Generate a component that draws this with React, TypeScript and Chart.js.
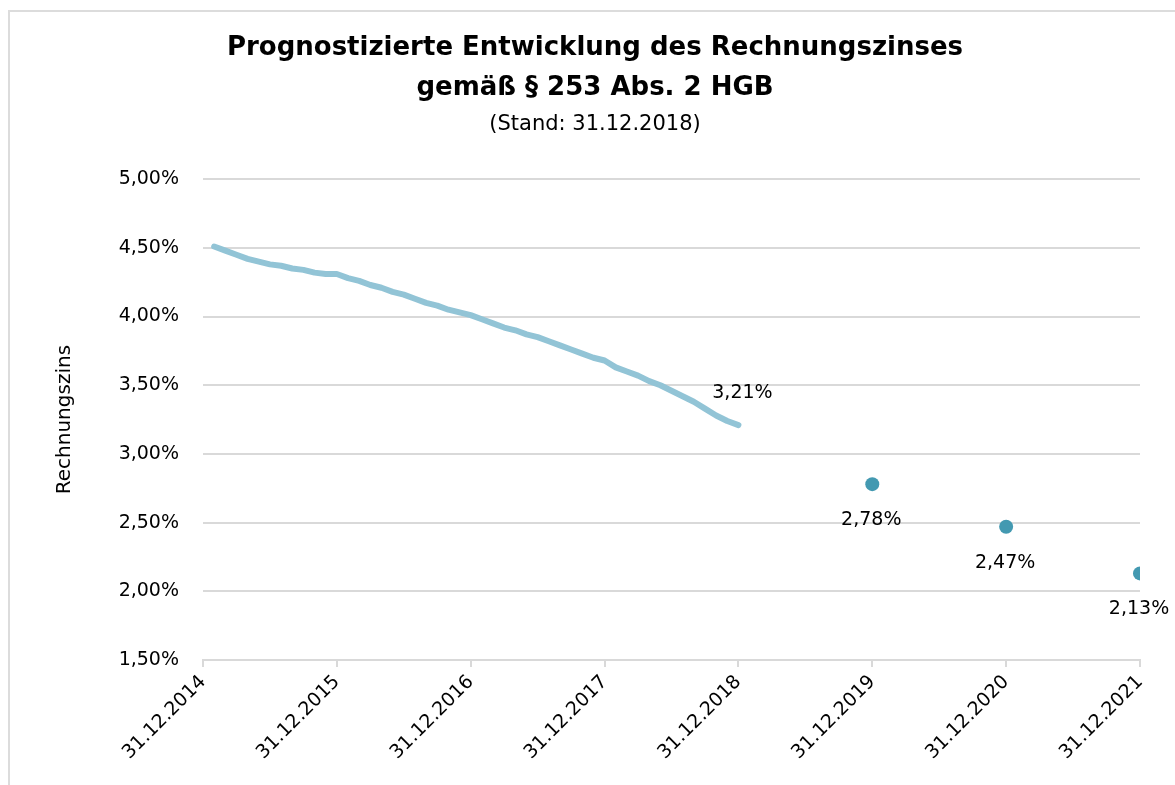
import React, { useEffect, useRef } from "react";
import { Chart, registerables } from "chart.js";

Chart.register(...registerables);

const titleLines = ["Prognostizierte Entwicklung des Rechnungszinses", "gemäß § 253 Abs. 2 HGB"];
const subtitleText = "(Stand: 31.12.2018)";
const yAxisTitle = "Rechnungszins";

const xTickLabels = [
  "31.12.2014",
  "31.12.2015",
  "31.12.2016",
  "31.12.2017",
  "31.12.2018",
  "31.12.2019",
  "31.12.2020",
  "31.12.2021",
];

// monthly values Jan 2015 .. Dec 2018 (in %)
const historicValues = [
  4.51, 4.48, 4.45, 4.42, 4.4, 4.38, 4.37, 4.35, 4.34, 4.32, 4.31, 4.31,
  4.28, 4.26, 4.23, 4.21, 4.18, 4.16, 4.13, 4.1, 4.08, 4.05, 4.03, 4.01,
  3.98, 3.95, 3.92, 3.9, 3.87, 3.85, 3.82, 3.79, 3.76, 3.73, 3.7, 3.68,
  3.63, 3.6, 3.57, 3.53, 3.5, 3.46, 3.42, 3.38, 3.33, 3.28, 3.24, 3.21,
];

// forecast points at year ends 2019, 2020, 2021 (months after 31.12.2014)
const forecastMonths = [60, 72, 84];
const forecastValues = [2.78, 2.47, 2.13];

const fmt = (v: number) => v.toFixed(2).replace(".", ",") + "%";

const FONT = "'DejaVu Sans', sans-serif";

const labelPlugin = {
  id: "valueLabels",
  afterDatasetsDraw(chart: any) {
    const ctx = chart.ctx;
    ctx.save();
    ctx.font = `19px ${FONT}`;
    ctx.fillStyle = "#000";
    ctx.textAlign = "center";
    ctx.textBaseline = "middle";
    const m0 = chart.getDatasetMeta(0);
    const last = m0.data[m0.data.length - 1];
    ctx.fillText(fmt(historicValues[historicValues.length - 1]), last.x + 4, last.y - 32);
    const m1 = chart.getDatasetMeta(1);
    m1.data.forEach((p: any, i: number) => {
      ctx.fillText(fmt(forecastValues[i]), p.x - 1, p.y + 36);
    });
    ctx.restore();
  },
};

export default function App() {
  const ref = useRef<HTMLCanvasElement>(null);

  useEffect(() => {
    if (!ref.current) return;
    Chart.defaults.font.family = FONT;
    Chart.defaults.color = "#000";
    const chart = new Chart(ref.current, {
      type: "line",
      data: {
        datasets: [
          {
            data: historicValues.map((v, i) => ({ x: i + 1, y: v })),
            borderColor: "#92c4d6",
            borderWidth: 6,
            borderCapStyle: "round",
            borderJoinStyle: "round",
            pointRadius: 0,
            tension: 0,
          },
          {
            data: forecastValues.map((v, i) => ({ x: forecastMonths[i], y: v })),
            showLine: false,
            pointRadius: 7,
            pointBackgroundColor: "#4399b1",
            pointBorderColor: "#4399b1",
            pointBorderWidth: 0,
          },
        ],
      },
      options: {
        responsive: false,
        animation: false,
        layout: { padding: { left: 50, right: 35, top: 0, bottom: 17 } },
        plugins: {
          legend: { display: false },
          tooltip: { enabled: false },
          title: {
            display: true,
            text: titleLines,
            color: "#000",
            font: { size: 26, weight: "bold", family: FONT, lineHeight: 40 / 26 },
            padding: { top: 28, bottom: 4 },
          },
          subtitle: {
            display: true,
            text: subtitleText,
            color: "#000",
            font: { size: 21, family: FONT, lineHeight: 1.2 },
            padding: { top: 0, bottom: 42 },
          },
        },
        scales: {
          x: {
            type: "linear",
            min: 0,
            max: 84,
            offset: false,
            grid: {
              display: true,
              drawOnChartArea: false,
              drawTicks: true,
              tickLength: 7,
              color: "#d9d9d9",
              lineWidth: 2,
            },
            border: { display: true, color: "#d9d9d9", width: 2 },
            ticks: {
              stepSize: 12,
              autoSkip: false,
              minRotation: 45,
              maxRotation: 45,
              padding: 4,
              font: { size: 19, family: FONT },
              color: "#000",
              callback: (v: any) => xTickLabels[Math.round(Number(v) / 12)] ?? "",
            },
          },
          y: {
            min: 1.5,
            max: 5,
            grid: { color: "#d9d9d9", lineWidth: 2, drawTicks: false },
            border: { display: false },
            ticks: {
              stepSize: 0.5,
              padding: 24,
              font: { size: 19, family: FONT },
              color: "#000",
              callback: (v: any) => fmt(Number(v)),
            },
            title: {
              display: true,
              text: yAxisTitle,
              color: "#000",
              font: { size: 20, family: FONT, lineHeight: 1.2 },
              padding: { top: 3, bottom: 0 },
            },
            afterFit: (scale: any) => {
              scale.width = 153;
            },
          },
        },
      },
      plugins: [labelPlugin],
    } as any);
    return () => chart.destroy();
  }, []);

  return (
    <div style={{ position: "fixed", left: 0, top: 0, width: 1175, height: 785, overflow: "hidden", background: "#fff" }}>
      <div
        style={{
          position: "absolute",
          left: 8,
          top: 10,
          width: 1300,
          height: 900,
          borderLeft: "2px solid #dcdcdc",
          borderTop: "2px solid #dcdcdc",
        }}
      />
      <canvas ref={ref} width={1175} height={785} style={{ position: "absolute", left: 0, top: 0 }} />
    </div>
  );
}
